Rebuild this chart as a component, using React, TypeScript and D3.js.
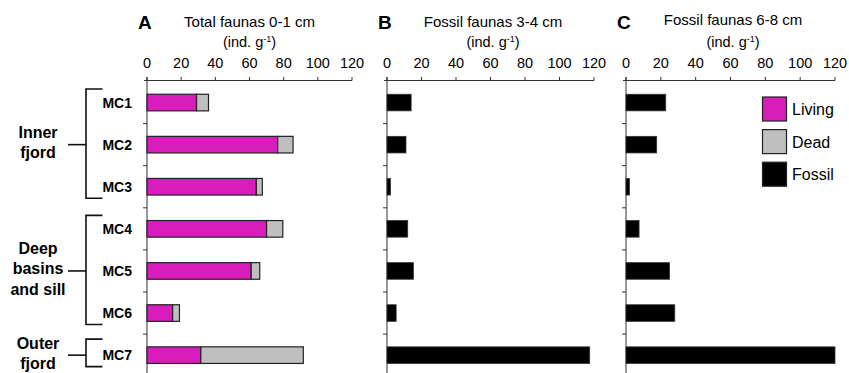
import React from 'react'
import * as d3 from 'd3'

const cores = ['MC1', 'MC2', 'MC3', 'MC4', 'MC5', 'MC6', 'MC7']
const living = [29, 76.5, 64, 70, 61, 15, 31.5]
const dead = [7, 9, 3.5, 9.5, 5, 4, 60]
const fossil34 = [14, 11, 2, 12, 15.3, 5.3, 117.5]
const fossil68 = [22.8, 17.6, 2, 7.5, 25, 28, 120]
const xTicks = [0, 20, 40, 60, 80, 100, 120]

const groups = [
  { lines: ['Inner', 'fjord'], from: 'MC1', to: 'MC3', mid: 'MC2' },
  { lines: ['Deep', 'basins', 'and sill'], from: 'MC4', to: 'MC6', mid: 'MC5' },
  { lines: ['Outer', 'fjord'], from: 'MC7', to: 'MC7', mid: 'MC7' },
]

const legendItems = [
  { label: 'Living', color: '#d91cbc' },
  { label: 'Dead', color: '#bfbfbf' },
  { label: 'Fossil', color: '#000000' },
]

const panels = [
  { letter: 'A', title: 'Total faunas 0-1 cm', x0: 147, x1: 352, titleDy: 0 },
  { letter: 'B', title: 'Fossil faunas 3-4 cm', x0: 387, x1: 594, titleDy: 0 },
  { letter: 'C', title: 'Fossil faunas 6-8 cm', x0: 626, x1: 835, titleDy: -2 },
]

const font = 'Liberation Sans, Arial, Helvetica, sans-serif'
const axisColor = '#333'

const y = d3.scaleBand<string>().domain(cores).range([81.5, 376.2]).paddingInner(0).paddingOuter(0)
const barH = 16.6

function Panel({ p, idx }: { p: typeof panels[0]; idx: number }) {
  const x = d3.scaleLinear().domain([0, 120]).range([p.x0, p.x1])
  const cx = (p.x0 + p.x1) / 2 + (idx === 0 ? 0 : 2.5)
  const bounds = cores.slice(1).map(c => y(c) as number)
  return (
    <g>
      <text x={p.x0 - 9} y={29} fontSize={19} fontWeight="bold" fontFamily={font}>{p.letter}</text>
      <text x={cx} y={27 + p.titleDy} fontSize={15} textAnchor="middle" fontFamily={font}>{p.title}</text>
      <text x={cx} y={47} fontSize={14.5} textAnchor="middle" fontFamily={font}>
        (ind. g<tspan dy={-5} fontSize={9}>-1</tspan><tspan dy={5}>)</tspan>
      </text>
      {xTicks.map(t => (
        <g key={t}>
          <text x={x(t)} y={68} fontSize={14.5} textAnchor="middle" fontFamily={font}>{t}</text>
          <line x1={x(t)} x2={x(t)} y1={77} y2={80.5} stroke={axisColor} strokeWidth={1} />
        </g>
      ))}
      <line x1={p.x0 - 3} x2={p.x1} y1={80.5} y2={80.5} stroke={axisColor} strokeWidth={1} />
      <line x1={p.x0} x2={p.x0} y1={77} y2={373} stroke={axisColor} strokeWidth={1} />
      {bounds.map((b, i) => (
        <line key={i} x1={p.x0 - 4} x2={p.x0} y1={b} y2={b} stroke={axisColor} strokeWidth={1} />
      ))}
      {cores.map((c, i) => {
        const by = (y(c) as number) + y.bandwidth() / 2 - barH / 2
        if (idx === 0) {
          return (
            <g key={c}>
              <rect x={x(0)} y={by} width={x(living[i]) - x(0)} height={barH}
                fill={legendItems[0].color} stroke="#222" strokeWidth={1.2} />
              <rect x={x(living[i])} y={by} width={x(living[i] + dead[i]) - x(living[i])} height={barH}
                fill={legendItems[1].color} stroke="#222" strokeWidth={1.2} />
            </g>
          )
        }
        const v = idx === 1 ? fossil34[i] : fossil68[i]
        return (
          <rect key={c} x={x(0)} y={by} width={x(v) - x(0)} height={barH}
            fill="#000" stroke="#333" strokeWidth={0.8} />
        )
      })}
    </g>
  )
}

export default function App() {
  const mid = (c: string) => (y(c) as number) + y.bandwidth() / 2
  return (
    <svg width={849} height={373} style={{ position: 'absolute', left: 0, top: 0, background: '#fff' }}>
      {panels.map((p, i) => <Panel key={p.letter} p={p} idx={i} />)}
      {cores.map(c => (
        <text key={c} x={132} y={mid(c) + 5} fontSize={14} fontWeight="bold" textAnchor="end" fontFamily={font}>{c}</text>
      ))}
      {groups.map((g, gi) => {
        const top = mid(g.from) - (gi === 2 ? 16 : 13.5)
        const bot = mid(g.to) + 11.5
        const m = mid(g.mid)
        const n = g.lines.length
        return (
          <g key={gi}>
            <path d={`M102.5,${top}H86V${bot}H102.5`} fill="none" stroke="#111" strokeWidth={1.6} />
            <line x1={68} x2={86} y1={m} y2={m} stroke="#111" strokeWidth={1.6} />
            {g.lines.map((l, li) => (
              <text key={li} x={38} y={m + 3.5 + (li - (n - 1) / 2) * 20.3} fontSize={16} fontWeight="bold"
                textAnchor="middle" fontFamily={font}>{l}</text>
            ))}
          </g>
        )
      })}
      {legendItems.map((it, i) => (
        <g key={it.label}>
          <rect x={762.5} y={97 + i * 32.6} width={24} height={24} fill={it.color} stroke="#222" strokeWidth={1.2} />
          <text x={792} y={97 + i * 32.6 + 18} fontSize={16} fontFamily={font}>{it.label}</text>
        </g>
      ))}
    </svg>
  )
}
